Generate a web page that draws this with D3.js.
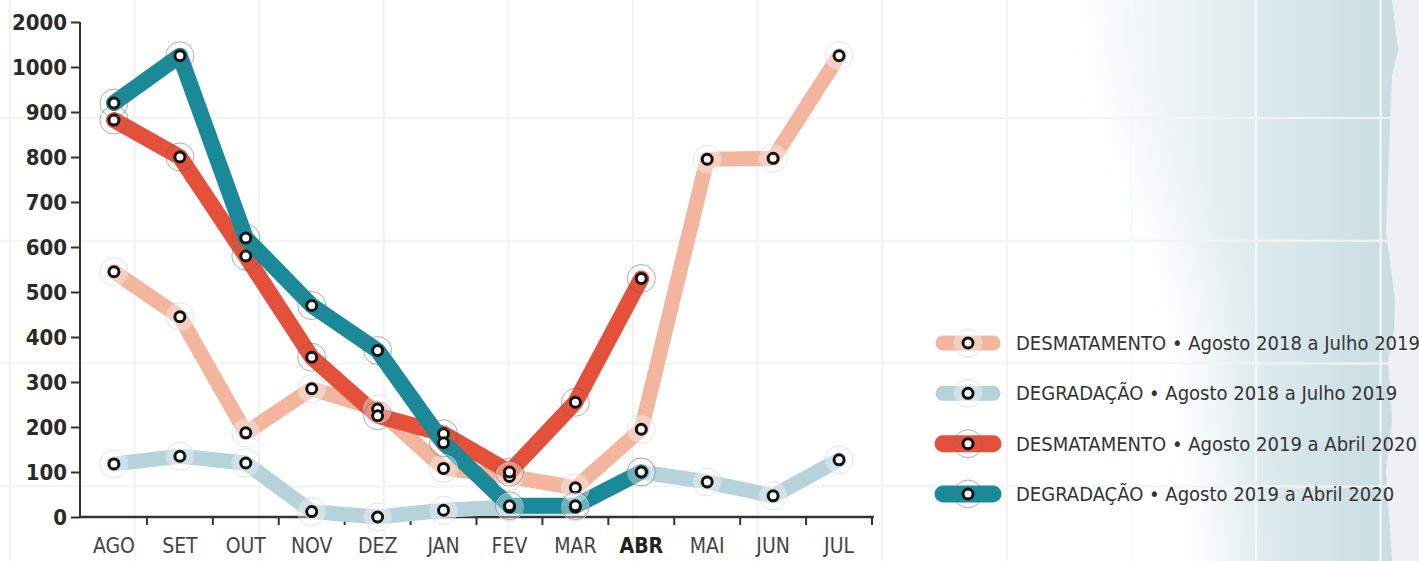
<!DOCTYPE html>
<html>
<head>
<meta charset="utf-8">
<script src="https://cdnjs.cloudflare.com/ajax/libs/d3/7.8.5/d3.min.js"></script>
<style>
  body { margin: 0; background: #fff; }
  svg { display: block; }
  .cond { font-family: "Liberation Sans Narrow", "DejaVu Sans Condensed", "Roboto", sans-serif; }
</style>
</head>
<body>
<div id="chart"></div>
<script>
// months (x categories)
var months = ["AGO","SET","OUT","NOV","DEZ","JAN","FEV","MAR","ABR","MAI","JUN","JUL"];

// series values
var desm1819 = [545, 445, 187, 285, 240, 108, 90, 65, 195, 795, 797, 1025];
var degr1819 = [118, 135, 120, 12, 0, 15, 22, 22, 100, 78, 47, 127];
var desm1920 = [882, 800, 580, 355, 225, 185, 100, 255, 530];
var degr1920 = [920, 1025, 620, 470, 370, 165, 25, 25, 100];

// y ticks: axis is broken at the top, last tick reads 2000
var yTickValues = [0, 100, 200, 300, 400, 500, 600, 700, 800, 900, 1000, 1100];
var yTickLabels = ["0","100","200","300","400","500","600","700","800","900","1000","2000"];

var legendLabels = [
  "DESMATAMENTO \u2022 Agosto 2018 a Julho 2019",
  "DEGRADA\u00c7\u00c3O \u2022 Agosto 2018 a Julho 2019",
  "DESMATAMENTO \u2022 Agosto 2019 a Abril 2020",
  "DEGRADA\u00c7\u00c3O \u2022  Agosto 2019 a Abril 2020"
];

var width = 1419, height = 561;

var series = [
  {name: legendLabels[0], values: desm1819, color: "#f3b59e", w: 15, old: true},
  {name: legendLabels[1], values: degr1819, color: "#b6d3dc", w: 15, old: true},
  {name: legendLabels[2], values: desm1920, color: "#e4503a", w: 16, old: false},
  {name: legendLabels[3], values: degr1920, color: "#1a8a9b", w: 16, old: false}
];

var svg = d3.select("#chart").append("svg")
    .attr("width", width)
    .attr("height", height);

var defs = svg.append("defs");
var grad = defs.append("linearGradient")
    .attr("id", "mapgrad")
    .attr("x1", "0%").attr("x2", "100%").attr("y1", "0%").attr("y2", "0%");
grad.append("stop").attr("offset", "0%").attr("stop-color", "#ffffff");
grad.append("stop").attr("offset", "30%").attr("stop-color", "#f1f6f7");
grad.append("stop").attr("offset", "65%").attr("stop-color", "#dce9ec");
grad.append("stop").attr("offset", "100%").attr("stop-color", "#c8dce2");

defs.append("filter").attr("id", "soft")
    .attr("x", "-50%").attr("y", "-50%").attr("width", "200%").attr("height", "200%")
  .append("feGaussianBlur").attr("stdDeviation", 28);

// background: bluish map area on the right
svg.append("rect").attr("x", 1380).attr("y", 0).attr("width", 39).attr("height", height)
    .attr("fill", "#eef0f3");
svg.append("path")
    .attr("d", "M1040,0 L1392,0 L1398,50 L1392,75 L1386,230 L1395,300 L1394,330 L1388,360 L1392,420 L1386,470 L1392,561 L1040,561 Z")
    .attr("fill", "url(#mapgrad)");
svg.append("path")
    .attr("d", "M980,-60 L1080,-60 L1110,100 L1160,200 L1200,300 L1230,620 L980,620 Z")
    .attr("fill", "#fff")
    .attr("filter", "url(#soft)");

// faint page grid
var gridX = d3.range(10, width, 124.6);
var gridY = d3.range(118, height, 122.8);
svg.append("g").selectAll("line").data(gridX).enter().append("line")
    .attr("x1", function(d) { return d; }).attr("x2", function(d) { return d; })
    .attr("y1", 0).attr("y2", height)
    .attr("stroke", function(d) { return d > 1100 ? "#f4f9fa" : "#f2f2f2"; })
    .attr("stroke-width", 2);
svg.append("g").selectAll("line").data(gridY).enter().append("line")
    .attr("x1", 0).attr("x2", 1390)
    .attr("y1", function(d) { return d; }).attr("y2", function(d) { return d; })
    .attr("stroke", "#f2f3f4")
    .attr("stroke-width", 2);

// scales
var x = d3.scaleBand().domain(months).range([81, 872]);
var y = d3.scaleLinear().domain([0, 1000]).range([517, 67]);
var cx = function(i) { return x(months[i]) + x.bandwidth() / 2; };

// axes
var yAxis = d3.axisLeft(y)
    .tickValues(yTickValues)
    .tickFormat(function(d, i) { return yTickLabels[i]; })
    .tickSize(9)
    .tickPadding(4);
var gy = svg.append("g").attr("transform", "translate(80,0)").call(yAxis);
gy.select(".domain").attr("d", "M0,22V517").attr("stroke", "#333").attr("stroke-width", 2);
gy.selectAll(".tick line").attr("stroke", "#333").attr("stroke-width", 2);
gy.selectAll(".tick text")
    .attr("class", "cond")
    .style("font-size", "22px")
    .style("font-weight", "bold")
    .attr("fill", "#2a2a2a");

var xAxis = d3.axisBottom(x).tickSize(0).tickPadding(21);
var gx = svg.append("g").attr("transform", "translate(0,517)").call(xAxis);
gx.select(".domain").attr("d", "M80,0H874").attr("stroke", "#333").attr("stroke-width", 2.5);
gx.selectAll(".tick text")
    .attr("class", "cond")
    .style("font-size", "21px")
    .style("font-weight", function(d) { return d === "ABR" ? "bold" : "normal"; })
    .attr("fill", function(d) { return d === "ABR" ? "#222" : "#444"; });
// ticks on band boundaries
gx.append("g").selectAll("line").data(months).enter().append("line")
    .attr("x1", function(d) { return x(d) + x.bandwidth(); })
    .attr("x2", function(d) { return x(d) + x.bandwidth(); })
    .attr("y1", 0).attr("y2", 8)
    .attr("stroke", "#333").attr("stroke-width", 2);

// lines
var line = d3.line()
    .x(function(d, i) { return cx(i); })
    .y(function(d) { return y(d); });

var gl = svg.append("g");
series.forEach(function(s) {
  gl.append("path")
    .datum(s.values)
    .attr("d", line)
    .attr("fill", "none")
    .attr("stroke", s.color)
    .attr("stroke-width", s.w)
    .attr("stroke-linejoin", "round")
    .attr("stroke-linecap", "round");
});

// markers
function marker(g, px, py, old) {
  g.append("circle")
    .attr("cx", px).attr("cy", py).attr("r", 14)
    .attr("fill", old ? "rgba(255,255,255,0.35)" : "none")
    .attr("stroke", old ? "#d8d8d8" : "#666")
    .attr("stroke-opacity", old ? 0.8 : 0.6)
    .attr("stroke-width", 0.9);
  g.append("circle")
    .attr("cx", px).attr("cy", py).attr("r", 5)
    .attr("fill", "#fff")
    .attr("stroke", "#111")
    .attr("stroke-width", 3);
}

var gm = svg.append("g");
series.forEach(function(s) {
  s.values.forEach(function(v, i) { marker(gm, cx(i), y(v), s.old); });
});

// legend
var legY = d3.scalePoint().domain(legendLabels).range([343, 494]);
var gleg = svg.append("g");
series.forEach(function(s) {
  var ly = legY(s.name);
  gleg.append("line")
    .attr("x1", 943).attr("x2", 993)
    .attr("y1", ly).attr("y2", ly)
    .attr("stroke", s.color)
    .attr("stroke-width", s.old ? 15 : 17)
    .attr("stroke-linecap", "round");
  marker(gleg, 968, ly, s.old);
  gleg.append("text")
    .attr("class", "cond")
    .attr("x", 1016)
    .attr("y", ly)
    .attr("dy", "0.35em")
    .style("font-size", "20px")
    .attr("fill", "#333")
    .text(s.name);
});
</script>
</body>
</html>
